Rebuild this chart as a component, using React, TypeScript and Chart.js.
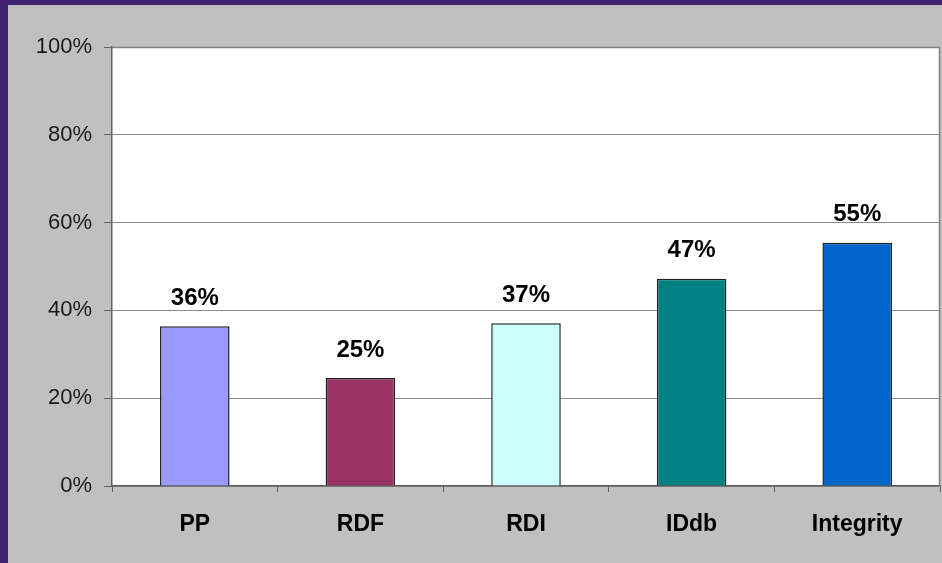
import React, { useEffect, useRef } from "react";
import { Chart, registerables } from "chart.js";

Chart.register(...registerables);

const categories = ["PP", "RDF", "RDI", "IDdb", "Integrity"];
const values = [36.4, 24.6, 37.1, 47.2, 55.4];
const valueLabels = ["36%", "25%", "37%", "47%", "55%"];
const barColors = ["#9999ff", "#993366", "#ccffff", "#008080", "#0066cc"];
const yTicks = [0, 20, 40, 60, 80, 100];

const W = 942;
const H = 563;

const framePlugin = {
  id: "frame",
  beforeDraw(chart: any) {
    const { ctx, chartArea } = chart;
    ctx.save();
    ctx.fillStyle = "#3e2270";
    ctx.fillRect(0, 0, W, H);
    ctx.fillStyle = "#c0c0c0";
    ctx.fillRect(8, 5, W - 8, H - 5);
    ctx.fillStyle = "#ffffff";
    ctx.fillRect(chartArea.left, chartArea.top, chartArea.right - chartArea.left, chartArea.bottom - chartArea.top);
    ctx.restore();
  },
  afterDraw(chart: any) {
    const { ctx, chartArea } = chart;
    ctx.save();
    ctx.strokeStyle = "#808080";
    ctx.lineWidth = 1.5;
    ctx.beginPath();
    ctx.moveTo(chartArea.left, chartArea.top + 0.5);
    ctx.lineTo(chartArea.right - 0.5, chartArea.top + 0.5);
    ctx.lineTo(chartArea.right - 0.5, chartArea.bottom);
    ctx.stroke();
    ctx.restore();
  },
};

const labelPlugin = {
  id: "valueLabels",
  afterDatasetsDraw(chart: any) {
    const { ctx } = chart;
    const meta = chart.getDatasetMeta(0);
    ctx.save();
    ctx.font = "bold 24px 'Liberation Sans', Arial, sans-serif";
    ctx.fillStyle = "#000000";
    ctx.textAlign = "center";
    ctx.textBaseline = "middle";
    meta.data.forEach((bar: any, i: number) => {
      ctx.fillText(valueLabels[i], bar.x, bar.y - 28);
    });
    ctx.restore();
  },
};

export default function App() {
  const ref = useRef<HTMLCanvasElement>(null);

  useEffect(() => {
    document.body.style.margin = "0";
    const canvas = ref.current!;
    const chart = new Chart(canvas, {
      type: "bar",
      data: {
        labels: categories,
        datasets: [
          {
            data: values,
            backgroundColor: barColors,
            borderColor: "#222222",
            borderWidth: 1.5,
            barPercentage: 0.42,
            categoryPercentage: 1,
          },
        ],
      },
      options: {
        responsive: false,
        animation: false,
        devicePixelRatio: 1,
        layout: { padding: { left: 0, top: 47, right: 2, bottom: 0 } },
        plugins: {
          legend: { display: false },
          tooltip: { enabled: false },
        },
        scales: {
          y: {
            min: 0,
            max: 100,
            afterFit(scale: any) {
              scale.width = 112;
            },
            afterBuildTicks(scale: any) {
              scale.ticks = yTicks.map((v) => ({ value: v }));
            },
            ticks: {
              callback: (v: any) => v + "%",
              font: { family: "'Liberation Sans', Arial, sans-serif", size: 22 },
              color: "#1a1a1a",
              padding: 12,
            },
            grid: {
              color: "#8a8a8a",
              lineWidth: 1,
              tickLength: 8,
              tickColor: "#606060",
            },
            border: { color: "#606060", width: 1.5 },
          },
          x: {
            afterFit(scale: any) {
              scale.height = 77;
            },
            ticks: {
              font: { family: "'Liberation Sans', Arial, sans-serif", size: 23, weight: "bold" },
              color: "#000000",
              padding: 19,
            },
            grid: {
              offset: true,
              drawOnChartArea: false,
              tickLength: 6,
              tickColor: "#606060",
            },
            border: { color: "#606060", width: 1.5 },
          },
        },
      },
      plugins: [framePlugin, labelPlugin],
    });
    return () => chart.destroy();
  }, []);

  return <canvas ref={ref} width={W} height={H} style={{ display: "block", width: W, height: H }} />;
}
